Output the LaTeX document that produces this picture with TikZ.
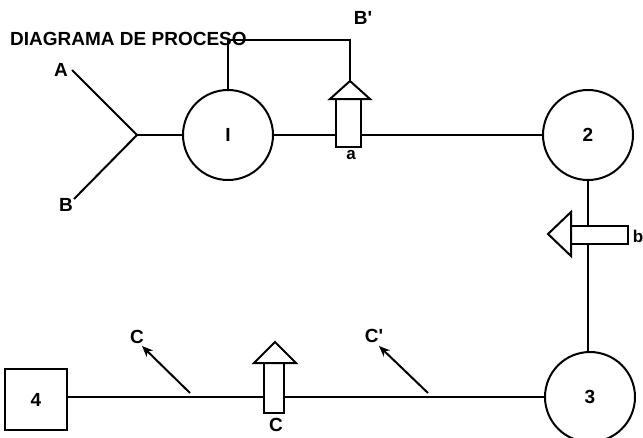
\documentclass[tikz,border=0pt]{standalone}
\usepackage{fontspec}
\setmainfont{Liberation Sans}
\usetikzlibrary{arrows.meta}
\begin{document}
\begin{tikzpicture}[x=1pt,y=-1pt,
  ln/.style={line width=2pt},
  circ/.style={circle,draw,line width=2pt,minimum size=90pt,inner sep=0pt,font=\fontsize{19}{19}\selectfont\bfseries},
  lbl/.style={font=\fontsize{19}{19}\selectfont\bfseries, inner sep=0pt},
  sym/.style={line width=2pt,fill=white,line join=miter},
  ptr/.style={line width=2pt,-{Stealth[length=11pt,width=9pt]}}]
\useasboundingbox (0,0) rectangle (643,437);
\clip (0,0) rectangle (643,437);
\node[lbl,anchor=base west] (title) at (10,45) {DIAGRAMA DE PROCESO};
% circles and box
\node[circ] (c1) at (228,135) {I};
\node[circ] (c2) at (588,135) {2};
\node[circ] (c3) at (590,397) {3};
\node[draw,line width=2pt,minimum width=62pt,minimum height=61pt,inner sep=0pt,font=\fontsize{19}{19}\selectfont\bfseries] (b4) at (36,399.5) {4};
% inputs A, B
\coordinate (j) at (137,135);
\coordinate (ea) at (72,70);
\coordinate (eb) at (74,199);
\node[lbl] (A) at (61,70) {A};
\node[lbl] (B) at (66,205) {B};
\draw[ln] (ea) -- (j) -- (eb);
\draw[ln] (j) -- (c1.west);
% line 1 -> 2
\draw[ln] (c1.east) -- (c2.west);
% loop from 1 to arrow a
\coordinate (atip) at (350,81);
\draw[ln] (c1.north) -- (228,40) -- (350,40) -- (atip);
\draw[sym] (336,99) rectangle (361,147);
\draw[sym] (330,99) -- (atip) -- (370,99) -- cycle;
\node[lbl,font=\fontsize{17}{17}\selectfont\bfseries] (a) at (351,155) {a};
\node[lbl] (Bp) at (363,18) {B\textquotesingle};
% line 2 -> 3
\draw[ln] (c2.south) -- (c2.south |- c3.north);
\draw[sym] (571,226) rectangle (628,244);
\draw[sym] (571,212) -- (548,234) -- (571,256) -- cycle;
\node[lbl,font=\fontsize{17}{17}\selectfont\bfseries] (b) at (638,236) {b};
% bottom line
\draw[ln] (b4.east |- c3.west) -- (c3.west);
\draw[sym] (264,363) rectangle (284,413);
\draw[sym] (254,363) -- (275,342) -- (296,363) -- cycle;
\node[lbl] (C3) at (276,425) {C};
\coordinate (s1) at (190,393);
\coordinate (s2) at (428,393);
\node[lbl] (C1) at (137,337) {C};
\node[lbl] (C2) at (374,336) {C\textquotesingle};
\draw[ptr] (s1) -- (142,346);
\draw[ptr] (s2) -- (379,346);
\end{tikzpicture}
\end{document}
